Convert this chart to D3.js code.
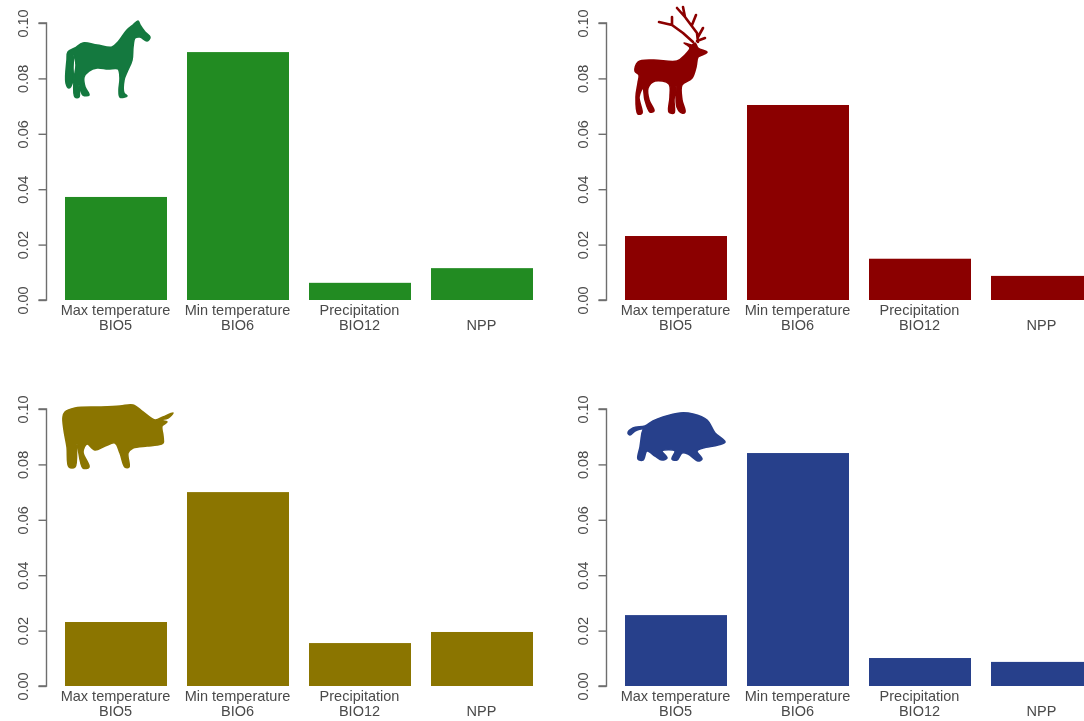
<!DOCTYPE html>
<html><head><meta charset="utf-8">
<script src="https://cdn.jsdelivr.net/npm/d3@7/dist/d3.min.js"></script>
<style>html,body{margin:0;padding:0;background:#fff;overflow:hidden}svg{display:block;filter:blur(0.45px)}</style>
</head><body><svg id="c" width="1084" height="721"></svg>
<script>
const categories = ["Max temperature","Min temperature","Precipitation","NPP"];
const subLabels = ["BIO5","BIO6","BIO12",""];
const yTicks = [0,0.02,0.04,0.06,0.08,0.10];
const horse = [0.0372,0.0895,0.0062,0.0115];
const deer = [0.0231,0.0704,0.0149,0.0087];
const cattle = [0.0231,0.0700,0.0155,0.0195];
const boar = [0.0256,0.0841,0.0101,0.0087];
const colours = {horse:"#228B22",deer:"#8B0000",cattle:"#8B7500",boar:"#27408B"};

// decorative silhouettes, outlines in page pixels
const horseOutline = "138 21,140 25,145 32,150 37,147 41,140 37,135 38,133 47,132 60,127 72,124 80,124 93,127 96,120 97,119 90,120 78,118 69,108 69,97 68,89 71,84 77,85 87,89 95,83 95,79 85,79 97,75 97,74 80,76 65,74 55,73 67,73 80,69 88,66 83,67 60,68 52,75 48,83 43,97 45,112 47,118 42,127 30,133 25";
const deerOutline = "684 43,692 45,695 43,698 48,707 52,702 55,698 57,696 67,692 78,682 85,682 100,685 112,682 113,677 107,676 86,674 100,674 113,669 112,670 97,669 84,655 81,648 88,649 100,654 111,650 112,645 100,643 88,639 97,642 113,638 114,636 97,638 83,639 75,635 71,638 62,653 60,677 61,685 55,690 48,687 45";
const antlerPath = "M659 22L672 25L683 33L693 42M677 8L685 17L697 33L698 42M683 7L685 17M696 15L692 25M672 17L672 25M703 28L698 37M705 38L697 41";
const cattleOutline = "65 412,75 408,100 407,120 406,133 405,143 412,155 420,163 417,173 413,168 418,160 420,167 422,162 426,163 436,163 443,157 445,147 446,133 448,128 453,129 467,125 467,120 453,115 443,105 446,95 450,87 444,83 452,89 467,83 468,77 444,75 467,69 467,67 447,64 430,63 417";
const boarOutline = "628 433,633 428,645 426,653 421,663 417,680 413,693 414,707 420,715 433,725 442,718 445,703 448,697 451,702 459,698 461,688 454,682 453,677 460,672 459,675 451,662 451,667 458,662 460,655 456,647 451,643 460,638 459,640 447,642 433,643 429,635 431,630 435";

const panels = [
  {values:horse, colour:colours.horse, dx:0, top:23, bottom:300},
  {values:deer, colour:colours.deer, dx:560, top:23, bottom:300},
  {values:cattle, colour:colours.cattle, dx:0, top:409, bottom:686},
  {values:boar, colour:colours.boar, dx:560, top:409, bottom:686}
];
const svg = d3.select("#c");
const font = "'Liberation Sans',Arial,sans-serif";
const textCol = "#4a4a4a", axisCol = "#6e6e6e";

panels.forEach(p=>{
  const g = svg.append("g").attr("transform",`translate(${p.dx},0)`);
  const y = d3.scaleLinear().domain([0,0.1]).range([p.bottom,p.top]);
  const x = d3.scaleBand().domain(categories).range([55,543]).paddingInner(0.164).paddingOuter(0.082);
  g.selectAll("rect").data(p.values).join("rect")
    .attr("x",(d,i)=>x(categories[i])).attr("width",x.bandwidth())
    .attr("y",d=>y(d)).attr("height",d=>y(0)-y(d)).attr("fill",p.colour);
  const ax = g.append("g").attr("transform","translate(46.5,0)")
    .call(d3.axisLeft(y).tickValues(yTicks).tickFormat(d3.format(".2f")).tickSize(8).tickPadding(0));
  ax.selectAll("path").attr("fill","none").attr("stroke",axisCol).attr("stroke-width",1.4).attr("d",`M-8,${y(0.1)}H0V${y(0)}H-8`);
  ax.selectAll("line").attr("stroke",axisCol).attr("stroke-width",1.4);
  ax.selectAll("text").attr("transform","translate(-24,0) rotate(-90)").attr("x",0).attr("y",0).attr("dy","0.36em")
    .attr("text-anchor","middle").attr("font-family",font).attr("font-size",14.5).attr("fill",textCol);
  const lab = g.append("g").attr("font-family",font).attr("font-size",14.5).attr("fill",textCol).attr("text-anchor","middle");
  categories.forEach((c,i)=>{
    const cx = x(c)+x.bandwidth()/2-0.5;
    const only = !subLabels[i];
    lab.append("text").attr("x",cx).attr("y",p.bottom+(only?30:15)).text(c);
    if(!only) lab.append("text").attr("x",cx).attr("y",p.bottom+30).text(subLabels[i]);
  });
});
const smooth = d3.line().curve(d3.curveCatmullRomClosed.alpha(0.5));
const outline = s => smooth(s.split(",").map(q=>q.split(" ").map(Number)));
const sil = svg.append("g").attr("stroke-linejoin","round").attr("stroke-linecap","round");
[[horseOutline,"#14793F"],[deerOutline,colours.deer],[cattleOutline,colours.cattle],[boarOutline,colours.boar]].forEach(([s,c])=>{
  sil.append("path").attr("d",outline(s)).attr("fill",c).attr("stroke",c).attr("stroke-width",1.6);
});
sil.append("path").attr("d",antlerPath).attr("fill","none").attr("stroke",colours.deer).attr("stroke-width",2.6);
</script></body></html>
